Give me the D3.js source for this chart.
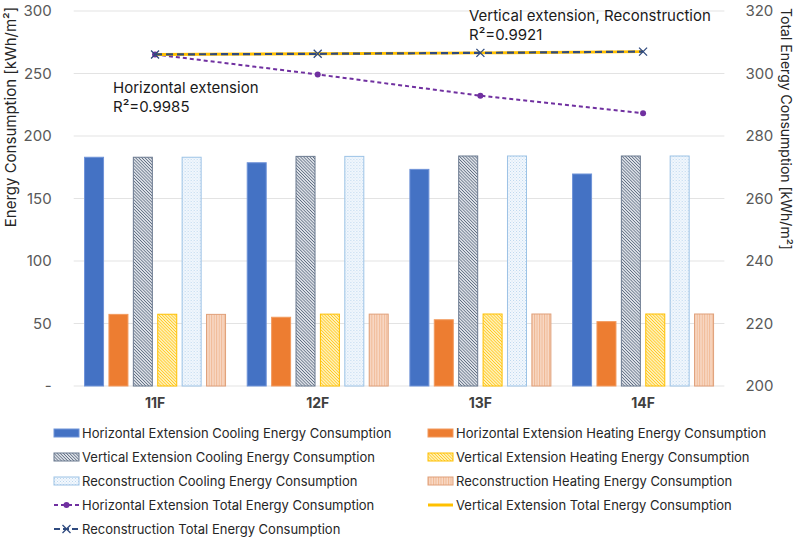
<!DOCTYPE html>
<html><head><meta charset="utf-8">
<script src="https://cdn.jsdelivr.net/npm/d3@7/dist/d3.min.js"></script>
<style>body{margin:0;background:#fff}svg{display:block;font-family:Inter,"Noto Sans",sans-serif}</style>
</head><body><svg id="c" width="800" height="542"></svg>
<script>
const categories = ["11F","12F","13F","14F"];
const heCooling = [183, 178.6, 173.3, 169.6];
const heHeating = [57.3, 55, 53, 51.5];
const veCooling = [183, 183.7, 184, 184];
const veHeating = [57.4, 57.5, 57.6, 57.6];
const rcCooling = [183, 183.7, 184, 184];
const rcHeating = [57.3, 57.5, 57.6, 57.6];
const heTotal = [306.1, 299.7, 292.9, 287.3];
const veTotal = [306.1, 306.3, 306.6, 307.0];
const rcTotal = [306.1, 306.3, 306.6, 307.0];
const leftTicks = [0,50,100,150,200,250,300];
const rightTicks = [200,220,240,260,280,300,320];

const barSeries = [
  {name:"Horizontal Extension Cooling Energy Consumption", values:heCooling, fill:"#4472C4", stroke:"#6F93D8"},
  {name:"Horizontal Extension Heating Energy Consumption", values:heHeating, fill:"#ED7D31", stroke:"#F29A5E"},
  {name:"Vertical Extension Cooling Energy Consumption", values:veCooling, fill:"url(#pVC)", stroke:"#6B7A90"},
  {name:"Vertical Extension Heating Energy Consumption", values:veHeating, fill:"url(#pVH)", stroke:"#FFC000"},
  {name:"Reconstruction Cooling Energy Consumption", values:rcCooling, fill:"url(#pRC)", stroke:"#9DC3E6"},
  {name:"Reconstruction Heating Energy Consumption", values:rcHeating, fill:"url(#pRH)", stroke:"#E0A07A"}
];
const lineSeries = [
  {name:"Horizontal Extension Total Energy Consumption", values:heTotal, color:"#7030A0", dash:"4,3", marker:"dot", width:2},
  {name:"Vertical Extension Total Energy Consumption", values:veTotal, color:"#FFC000", dash:null, marker:null, width:3},
  {name:"Reconstruction Total Energy Consumption", values:rcTotal, color:"#2F4A7F", dash:"7,4", marker:"x", width:2.2}
];

const svg = d3.select("#c");
const L=73.7, R=724.4, T=11, B=386;
const defs = svg.append("defs");
function hatch(id, bg, color, w, angle, sw){
  const p = defs.append("pattern").attr("id",id).attr("patternUnits","userSpaceOnUse")
    .attr("width",w).attr("height",w).attr("patternTransform","rotate("+angle+")");
  p.append("rect").attr("width",w).attr("height",w).attr("fill",bg);
  p.append("line").attr("x1",0).attr("y1",0).attr("x2",0).attr("y2",w).attr("stroke",color).attr("stroke-width",sw);
}
hatch("pVC","#DDE1E8","#44546A",2.2,-45,1.2);
hatch("pVH","#FFF0B8","#FFC000",2.2,-45,1.2);
{
  const p = defs.append("pattern").attr("id","pRC").attr("patternUnits","userSpaceOnUse").attr("width",3).attr("height",3);
  p.append("rect").attr("width",3).attr("height",3).attr("fill","#F3F8FD");
  p.append("rect").attr("width",1).attr("height",1).attr("fill","#BDD7EE");
  p.append("rect").attr("x",1.5).attr("y",1.5).attr("width",1).attr("height",1).attr("fill","#C9DEF1");
}
{
  const p = defs.append("pattern").attr("id","pRH").attr("patternUnits","userSpaceOnUse").attr("width",2.5).attr("height",3);
  p.append("rect").attr("width",2.5).attr("height",3).attr("fill","#F8D9C6");
  p.append("rect").attr("width",1).attr("height",3).attr("fill","#F0B994");
}

const x0 = d3.scaleBand().domain(categories).range([L,R]).padding(0);
const gw = 142;
const x1 = d3.scaleBand().domain(d3.range(barSeries.length))
  .range([(x0.bandwidth()-gw)/2,(x0.bandwidth()+gw)/2]).paddingInner(0.18);
const yL = d3.scaleLinear().domain([0,300]).range([B,T]);
const yR = d3.scaleLinear().domain([200,320]).range([B,T]);

// gridlines
svg.append("g").selectAll("line").data(leftTicks).join("line")
  .attr("x1",L).attr("x2",R).attr("y1",d=>yL(d)).attr("y2",d=>yL(d))
  .attr("stroke","#E3E3E3").attr("stroke-width",1.2);

// left axis
const ax = svg.append("g").attr("transform",`translate(${L-19},0)`)
  .call(d3.axisLeft(yL).tickValues(leftTicks).tickSize(0).tickFormat(d=>d===0?"-":d));
ax.select(".domain").remove();
ax.selectAll("text").attr("fill","#595959").style("font-size","15px").style("font-family","Inter,sans-serif");
const axr = svg.append("g").attr("transform",`translate(${R+18},0)`)
  .call(d3.axisRight(yR).tickValues(rightTicks).tickSize(0));
axr.select(".domain").remove();
axr.selectAll("text").attr("fill","#595959").style("font-size","15px").style("font-family","Inter,sans-serif");

// category labels
const axb = svg.append("g").attr("transform",`translate(0,${B+9})`)
  .call(d3.axisBottom(x0).tickSize(0));
axb.select(".domain").remove();
axb.selectAll("text").attr("fill","#404040").style("font-size","14px").style("font-weight","bold").style("font-family","Inter,sans-serif");

// axis titles
svg.append("text").attr("transform",`translate(16,117) rotate(-90)`).attr("text-anchor","middle")
  .attr("fill","#262626").style("font-size","15px").text("Energy Consumption [kWh/m²]");
svg.append("text").attr("transform",`translate(781,129) rotate(90)`).attr("text-anchor","middle")
  .attr("fill","#262626").style("font-size","14px").text("Total Energy Consumption [kWh/m²]");

// bars
const groups = svg.append("g").selectAll("g").data(categories).join("g")
  .attr("transform",d=>`translate(${x0(d)},0)`);
groups.selectAll("rect").data((c,ci)=>barSeries.map((s,si)=>({si,v:s.values[ci],s}))).join("rect")
  .attr("x",d=>x1(d.si)+0.5).attr("width",x1.bandwidth()-1)
  .attr("y",d=>yL(d.v)).attr("height",d=>B-yL(d.v))
  .attr("fill",d=>d.s.fill).attr("stroke",d=>d.s.stroke).attr("stroke-width",1);

// lines
const cx = c=>x0(c)+x0.bandwidth()/2;
lineSeries.forEach(s=>{
  const line = d3.line().x((v,i)=>cx(categories[i])).y(v=>yR(v));
  const p = svg.append("path").datum(s.values).attr("d",line).attr("fill","none")
    .attr("stroke",s.color).attr("stroke-width",s.width);
  if(s.dash) p.attr("stroke-dasharray",s.dash);
  if(s.marker==="dot"){
    svg.append("g").selectAll("circle").data(s.values).join("circle")
      .attr("cx",(v,i)=>cx(categories[i])).attr("cy",v=>yR(v)).attr("r",3).attr("fill",s.color);
  } else if(s.marker==="x"){
    svg.append("g").selectAll("path").data(s.values).join("path")
      .attr("transform",(v,i)=>`translate(${cx(categories[i])},${yR(v)})`)
      .attr("d","M-4,-4L4,4M-4,4L4,-4").attr("stroke",s.color).attr("stroke-width",1.3);
  }
});

// annotations
function note(x,y,lines){
  lines.forEach((t,i)=>svg.append("text").attr("x",x).attr("y",y+i*19).attr("fill","#1a1a1a")
    .style("font-size","15px").text(t));
}
note(469,21,["Vertical extension, Reconstruction","R²=0.9921"]);
note(113,93,["Horizontal extension","R²=0.9985"]);

// legend
const legendItems = [
  [barSeries[0],"bar"],[barSeries[1],"bar"],
  [barSeries[2],"bar"],[barSeries[3],"bar"],
  [barSeries[4],"bar"],[barSeries[5],"bar"],
  [lineSeries[0],"line"],[lineSeries[1],"line"],
  [lineSeries[2],"line"]
];
const lg = svg.append("g");
legendItems.forEach(([s,type],i)=>{
  const col=i%2, row=Math.floor(i/2);
  const gx = col? 428:54, gy = 433+row*24;
  const g = lg.append("g").attr("transform",`translate(${gx},${gy})`);
  if(type==="bar"){
    g.append("rect").attr("x",0).attr("y",-4).attr("width",25).attr("height",8)
      .attr("fill",s.fill).attr("stroke",s.stroke);
  } else {
    const l = g.append("line").attr("x1",0).attr("x2",25).attr("y1",0).attr("y2",0)
      .attr("stroke",s.color).attr("stroke-width",s.width);
    if(s.dash) l.attr("stroke-dasharray",s.marker==="x"?"6,3":"4,3");
    if(s.marker==="dot") g.append("circle").attr("cx",12.5).attr("cy",0).attr("r",3).attr("fill",s.color);
    if(s.marker==="x") g.append("path").attr("d","M8.5,-4L16.5,4M8.5,4L16.5,-4").attr("stroke",s.color).attr("stroke-width",1.3);
  }
  g.append("text").attr("x",28).attr("y",0).attr("dy","0.35em").attr("fill","#262626")
    .style("font-size","13px").text(s.name);
});
</script></body></html>
